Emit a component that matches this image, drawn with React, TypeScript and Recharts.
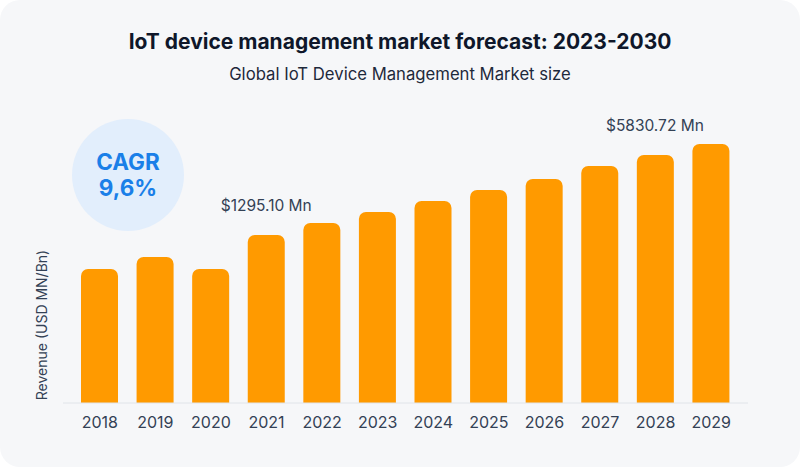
import React from 'react';
import { BarChart, Bar, XAxis, YAxis, LabelList } from 'recharts';

const years = ['2018', '2019', '2020', '2021', '2022', '2023', '2024', '2025', '2026', '2027', '2028', '2029'];
// Relative bar heights (no value axis shown in the reference)
const revenueIndex = [134, 146, 134, 168, 180, 191, 202, 213, 224, 237, 248, 259];
const annotations = ['', '', '', '$1295.10 Mn', '', '', '', '', '', '', '', '$5830.72 Mn'];

const data = years.map((y, i) => ({ year: y, value: revenueIndex[i], note: annotations[i] }));

const FONT = 'Inter, "Noto Sans", sans-serif';

const NoteLabel = (props: any) => {
  const { x, y, width, index } = props;
  const note = annotations[index];
  if (!note) return null;
  const shift = index === 11 ? -56 : 0;
  const lift = index === 11 ? 13 : 24;
  return (
    <text
      x={x + width / 2 + shift}
      y={y - lift}
      textAnchor="middle"
      fill="#334155"
      fontSize={15.5}
      fontFamily={FONT}
    >
      {note}
    </text>
  );
};

export default function App() {
  return (
    <div style={{ position: 'absolute', left: 0, top: 0, width: 800, height: 467, background: '#ffffff' }}>
      <div
        style={{
          position: 'absolute',
          left: 0,
          top: 0,
          width: 800,
          height: 467,
          background: '#F6F7F9',
          borderRadius: 20,
          fontFamily: FONT,
        }}
      >
        <div
          style={{
            position: 'absolute',
            left: 0,
            width: 800,
            top: 27,
            textAlign: 'center',
            fontSize: 21,
            fontWeight: 700,
            color: '#0F172A',
            lineHeight: '30px',
          }}
        >
          IoT device management market forecast: 2023-2030
        </div>
        <div
          style={{
            position: 'absolute',
            left: 0,
            width: 800,
            top: 62,
            textAlign: 'center',
            fontSize: 16.7,
            color: '#1E293B',
            lineHeight: '24px',
          }}
        >
          Global IoT Device Management Market size
        </div>
        <div
          style={{
            position: 'absolute',
            left: 72,
            top: 119,
            width: 112,
            height: 112,
            borderRadius: '50%',
            background: '#E2EEFC',
            display: 'flex',
            flexDirection: 'column',
            alignItems: 'center',
            justifyContent: 'center',
            color: '#1A7FE8',
            fontWeight: 700,
            fontSize: 22.5,
            lineHeight: '26px',
          }}
        >
          <div>CAGR</div>
          <div>9,6%</div>
        </div>
        <div
          style={{
            position: 'absolute',
            left: 42 - 100,
            top: 325 - 10,
            width: 200,
            height: 20,
            lineHeight: '20px',
            textAlign: 'center',
            transform: 'rotate(-90deg)',
            fontSize: 14,
            color: '#334155',
            whiteSpace: 'nowrap',
          }}
        >
          Revenue (USD MN/Bn)
        </div>
        <div style={{ position: 'absolute', left: 0, top: 0 }}>
          <BarChart
            width={800}
            height={467}
            data={data}
            margin={{ top: 123, right: 52, bottom: 34, left: 63 }}
          >
            <XAxis
              dataKey="year"
              height={30}
              tickLine={false}
              axisLine={{ stroke: '#E0E4E9' }}
              tickMargin={8}
              padding={{ left: 9, right: 9 }}
              tick={{ fill: '#334155', fontSize: 16, fontFamily: FONT }}
              interval={0}
            />
            <YAxis hide domain={[0, 280]} />
            <Bar dataKey="value" fill="#FF9A00" barSize={37} radius={[7, 7, 0, 0]} isAnimationActive={false}>
              <LabelList dataKey="note" content={NoteLabel} />
            </Bar>
          </BarChart>
        </div>
      </div>
    </div>
  );
}
